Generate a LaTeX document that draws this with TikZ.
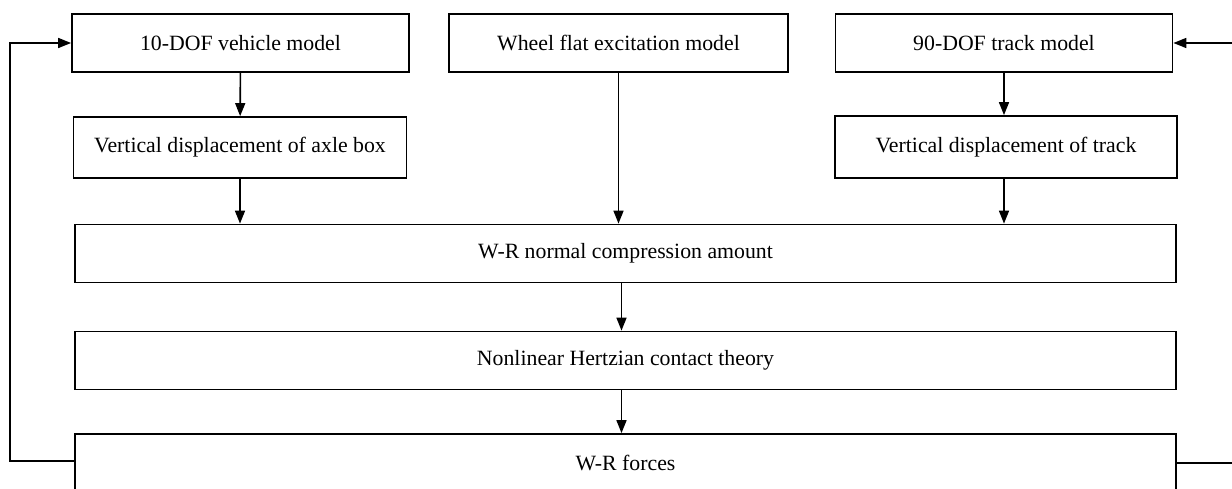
\documentclass[tikz,border=0pt]{standalone}
\usepackage{fontspec}
\setmainfont{Liberation Serif}
\usetikzlibrary{arrows.meta,positioning}
\tikzset{
  fbox/.style={rectangle, draw=black, line width=1pt, inner sep=2pt,
               minimum height=11.6mm, font=\fontsize{12.4}{14}\selectfont},
  fboxA/.style={fbox, minimum width=67.4mm},
  fboxW/.style={fbox, minimum width=220.2mm},
  fflow/.style={-{Triangle[length=2.6mm, width=2mm]}, line width=0.9pt},
  fback/.style={fflow},
}
\begin{document}
\begin{tikzpicture}[x=0.2mm, y=-0.2mm]
  \clip (0,0) rectangle (1232,489);
  \useasboundingbox (0,0) rectangle (1232,489);
  \node[fboxA] (veh)   at (240.5,43)  {10-DOF vehicle model};
  \node[fboxA, minimum width=67.8mm] (flat) at (618.5,43) {Wheel flat excitation model};
  \node[fboxA] (trk)   at (1004,43)   {90-DOF track model};
  \node[fboxA, minimum width=66.6mm, minimum height=12.2mm] (axle) at (240,147.5) {Vertical displacement of axle box};
  \node[fboxA, minimum width=68.4mm, minimum height=12.4mm] (tdis) at (1006,147) {Vertical displacement of track};
  \node[fboxW] (comp)  at (625.5,253.5) {W-R normal compression amount};
  \node[fboxW] (hertz) at (625.5,360.5) {Nonlinear Hertzian contact theory};
  \node[fboxW] (force) at (625.5,463)   {W-R forces};
  \coordinate (lft) at (10,461);
  \coordinate (rgt) at (1240,463);
  \draw[fflow] (veh) -- (axle);
  \draw[fflow] (trk) -- (trk |- tdis.north);
  \draw[fflow] (axle) -- (axle |- comp.north);
  \draw[fflow] (flat) -- (flat |- comp.north);
  \draw[fflow] (trk |- tdis.south) -- (trk |- comp.north);
  \draw[fflow] ([xshift=-0.8mm]comp.south) -- ([xshift=-0.8mm]hertz.north);
  \draw[fflow] ([xshift=-0.8mm]hertz.south) -- ([xshift=-0.8mm]force.north);
  \draw[fback] (force.west |- lft) -- (lft) |- (veh.west);
  \draw[fback] (force.east |- rgt) -- (rgt) |- (trk.east);
\end{tikzpicture}
\end{document}
